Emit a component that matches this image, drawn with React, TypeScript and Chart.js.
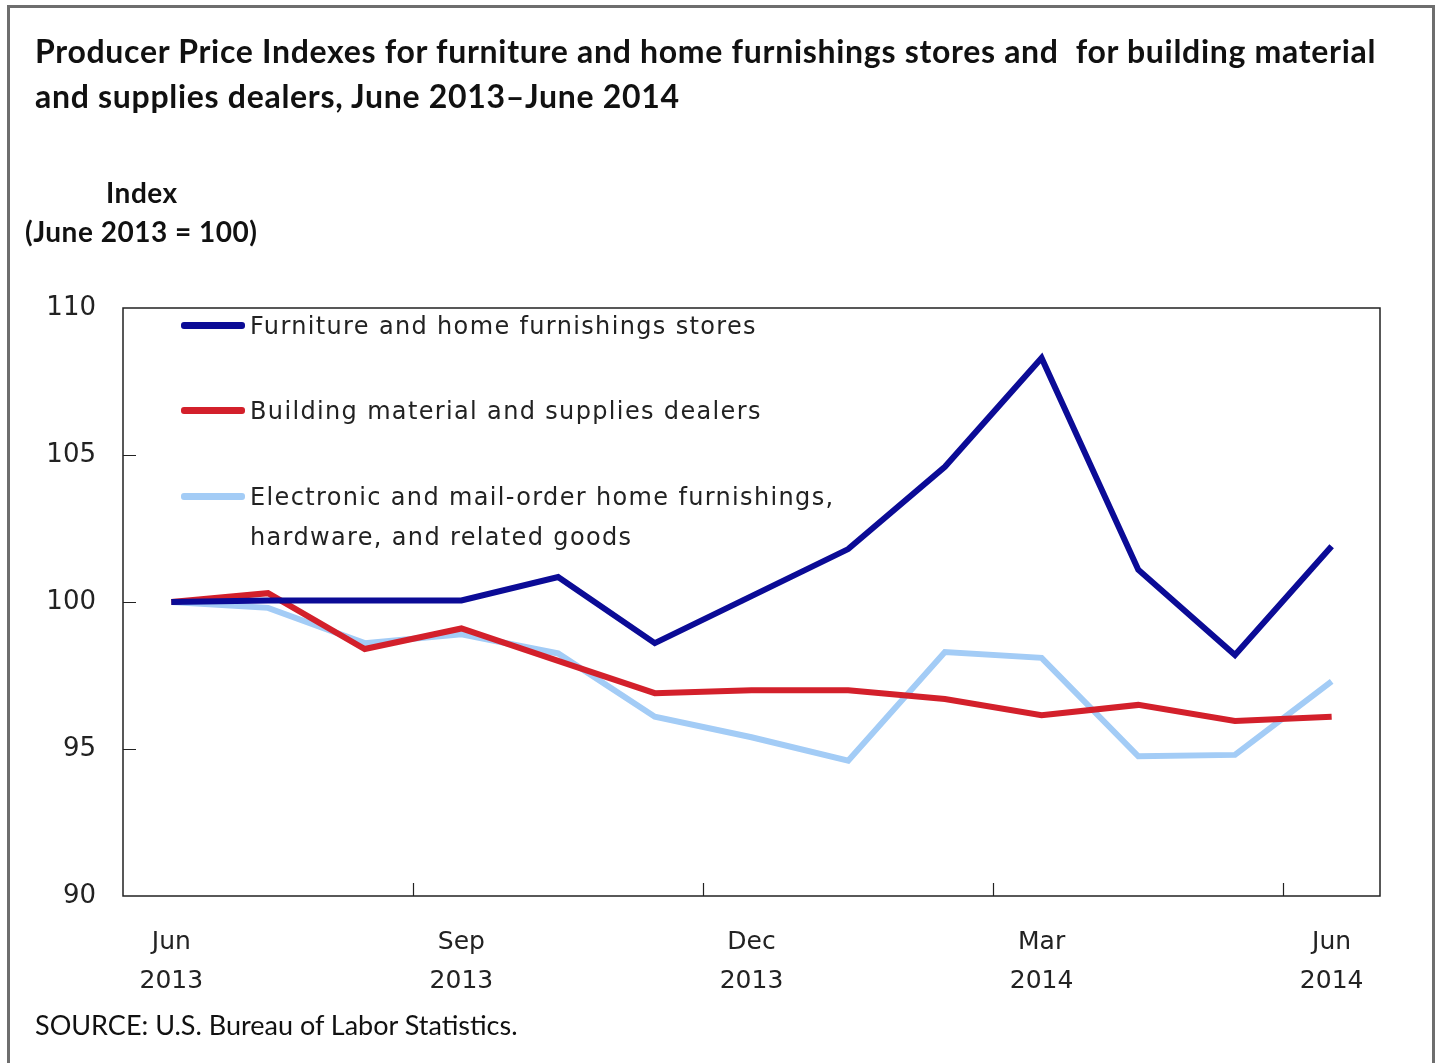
import React, { useEffect, useRef } from "react";
import { Chart, registerables } from "chart.js";

Chart.register(...registerables);

const months = [
  "Jun 2013", "Jul 2013", "Aug 2013", "Sep 2013", "Oct 2013", "Nov 2013", "Dec 2013",
  "Jan 2014", "Feb 2014", "Mar 2014", "Apr 2014", "May 2014", "Jun 2014",
];
const tickLabels: (string[] | string)[] = [
  ["Jun", "2013"], "", "", ["Sep", "2013"], "", "", ["Dec", "2013"],
  "", "", ["Mar", "2014"], "", "", ["Jun", "2014"],
];
const furniture = [100, 100.05, 100.05, 100.05, 100.85, 98.6, 100.2, 101.8, 104.6, 108.3, 101.1, 98.2, 101.9];
const building = [100, 100.3, 98.4, 99.1, 98.0, 96.9, 97.0, 97.0, 96.7, 96.15, 96.5, 95.95, 96.1];
const electronic = [100, 99.8, 98.6, 98.9, 98.25, 96.1, 95.4, 94.6, 98.3, 98.1, 94.75, 94.8, 97.3];

const seriesNames = [
  ["Furniture and home furnishings stores"],
  ["Building material and supplies dealers"],
  ["Electronic and mail-order home furnishings,", "hardware, and related goods"],
];
const seriesColors = ["#0b0b96", "#d3202b", "#a3ccf6"];
const yTicks = [90, 95, 100, 105, 110];

const TITLE_FONT = "Lato, 'Open Sans', sans-serif";
const BODY_FONT = "'DejaVu Sans', Verdana, sans-serif";

const boxPlugin = {
  id: "boxPlugin",
  afterDraw(chart: any) {
    const { ctx, chartArea } = chart;
    const x = chart.scales.x;
    const y = chart.scales.y;
    ctx.save();
    ctx.strokeStyle = "#222";
    ctx.lineWidth = 1.5;
    ctx.strokeRect(chartArea.left, chartArea.top, chartArea.right - chartArea.left, chartArea.bottom - chartArea.top);
    ctx.beginPath();
    [95, 100, 105].forEach((v) => {
      const py = Math.round(y.getPixelForValue(v)) + 0.5;
      ctx.moveTo(chartArea.left, py);
      ctx.lineTo(chartArea.left + 13, py);
    });
    [3, 6, 9, 12].forEach((k) => {
      const px = Math.round((x.getPixelForValue(k - 1) + x.getPixelForValue(k)) / 2) + 0.5;
      ctx.moveTo(px, chartArea.bottom);
      ctx.lineTo(px, chartArea.bottom - 13);
    });
    ctx.lineWidth = 1.2;
    ctx.stroke();
    ctx.restore();
  },
};

export default function App() {
  const ref = useRef<HTMLCanvasElement | null>(null);
  useEffect(() => {
    if (!ref.current) return;
    const data = [furniture, building, electronic];
    const chart = new Chart(ref.current, {
      type: "line",
      data: {
        labels: months,
        datasets: data.map((d, i) => ({
          label: seriesNames[i].join(" "),
          data: d,
          borderColor: seriesColors[i],
          backgroundColor: seriesColors[i],
          borderWidth: 6,
          pointRadius: 0,
          tension: 0,
          borderJoinStyle: "miter" as const,
          order: i,
        })),
      },
      options: {
        animation: false,
        responsive: false,
        maintainAspectRatio: false,
        layout: { padding: { top: 308, right: 58, left: 0, bottom: 0 } },
        plugins: { legend: { display: false }, tooltip: { enabled: false }, title: { display: false } },
        scales: {
          x: {
            type: "category",
            offset: true,
            grid: { display: false, drawTicks: false },
            border: { display: false },
            ticks: {
              autoSkip: false,
              maxRotation: 0,
              padding: 27,
              color: "#222",
              font: { family: BODY_FONT, size: 25, lineHeight: 1.55 },
              callback: (_v: any, i: number) => tickLabels[i],
            },
            afterFit: (s: any) => { s.height = 167; },
          },
          y: {
            min: 90,
            max: 110,
            afterBuildTicks: (s: any) => { s.ticks = yTicks.map((v) => ({ value: v })); },
            grid: { display: false, drawTicks: false },
            border: { display: false },
            ticks: {
              padding: 27,
              color: "#222",
              font: { family: BODY_FONT, size: 26 },
            },
            afterFit: (s: any) => { s.width = 123; },
          },
        },
      },
      plugins: [boxPlugin],
    });
    return () => chart.destroy();
  }, []);

  return (
    <div style={{ position: "fixed", left: 0, top: 0, width: 1438, height: 1063, background: "#fff", overflow: "hidden" }}>
      <div style={{ position: "absolute", left: 7, top: 5, width: 1422, height: 1100, border: "3px solid #6e6e6e" }} />
      <canvas ref={ref} width={1438} height={1063} style={{ position: "absolute", left: 0, top: 0, width: 1438, height: 1063 }} />
      <div style={{ position: "absolute", left: 35, top: 28, fontFamily: TITLE_FONT, fontWeight: 700, fontSize: 32, letterSpacing: 0.7, lineHeight: "45px", color: "#111", whiteSpace: "nowrap" }}>
        <div>Producer Price Indexes for furniture and home furnishings stores and&nbsp; for building material</div>
        <div>and supplies dealers, June 2013–June 2014</div>
      </div>
      <div style={{ position: "absolute", left: 25, top: 173, fontFamily: TITLE_FONT, fontWeight: 700, fontSize: 28, letterSpacing: 0.5, lineHeight: "39px", color: "#111", whiteSpace: "nowrap" }}>
        <div style={{ paddingLeft: 81 }}>Index</div>
        <div>(June 2013 = 100)</div>
      </div>
      {seriesNames.map((lines, i) => {
        const top = [326, 411, 497][i];
        return (
          <React.Fragment key={i}>
            <div style={{ position: "absolute", left: 181, top: top - 4, width: 64, height: 7, background: seriesColors[i], borderRadius: 3 }} />
            <div style={{ position: "absolute", left: 250, top: top - 20, fontFamily: BODY_FONT, fontSize: 24, letterSpacing: 1.35, lineHeight: "40px", color: "#222", whiteSpace: "nowrap" }}>
              {lines.map((l, j) => <div key={j}>{l}</div>)}
            </div>
          </React.Fragment>
        );
      })}
      <div style={{ position: "absolute", left: 35, top: 1008, fontFamily: TITLE_FONT, fontSize: 27, color: "#111", whiteSpace: "nowrap" }}>
        SOURCE: U.S. Bureau of Labor Statistics.
      </div>
    </div>
  );
}
